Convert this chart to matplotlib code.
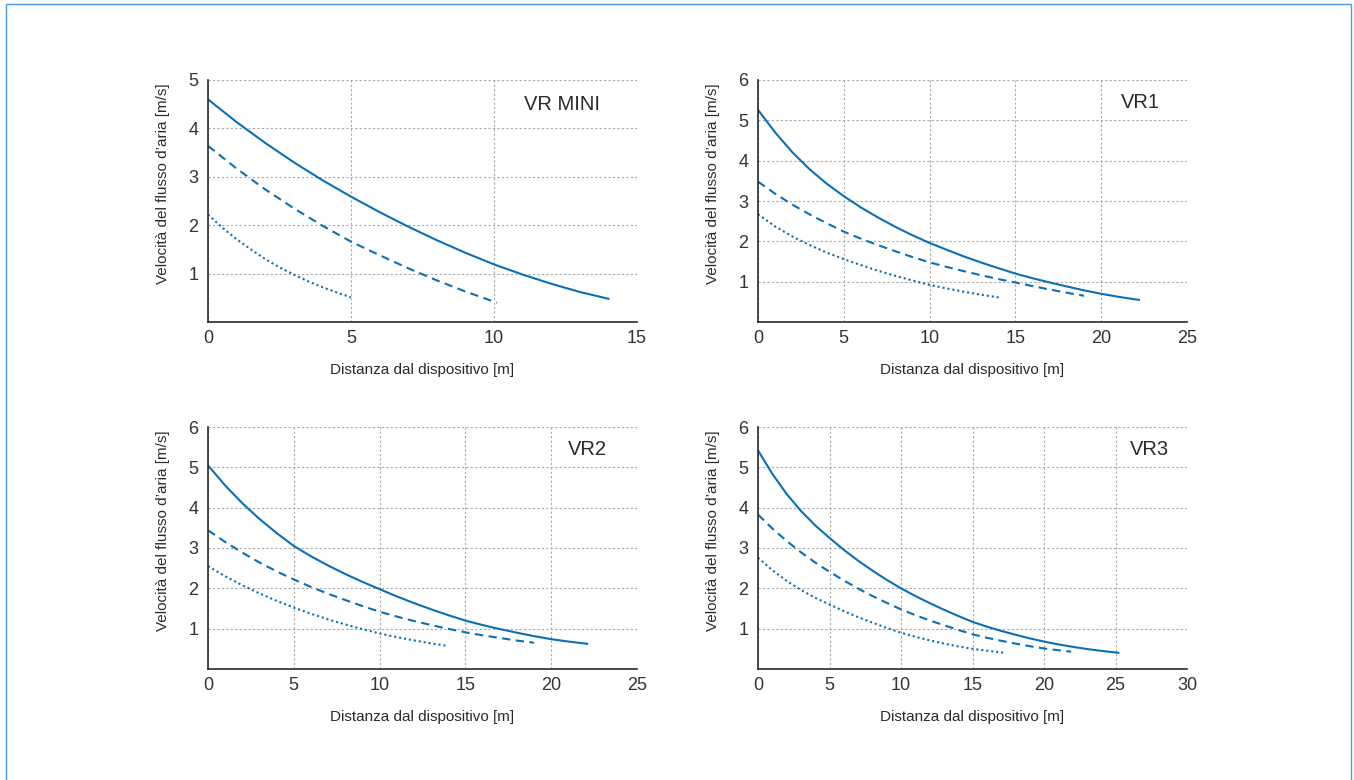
import matplotlib
matplotlib.use('Agg')
from matplotlib import pyplot as plt
from matplotlib.patches import Rectangle

plt.rcParams['font.family'] = ['Liberation Sans', 'DejaVu Sans']

BLUE = '#0b6fb6'
TXT = '#2a2a2a'

# VR MINI
mini_solid_x = [0, 1, 2, 3, 4, 5, 6, 7, 8, 9, 10, 11, 12, 13, 14]
mini_solid_y = [4.6, 4.13, 3.70, 3.30, 2.93, 2.59, 2.27, 1.97, 1.69, 1.43, 1.19, 0.98, 0.79, 0.62, 0.48]
mini_dash_x = [0, 1, 2, 3, 4, 5, 6, 7, 8, 9, 10, 10.1]
mini_dash_y = [3.64, 3.17, 2.74, 2.35, 1.99, 1.66, 1.38, 1.11, 0.86, 0.63, 0.42, 0.40]
mini_dot_x = [0, 0.5, 1, 1.5, 2, 2.5, 3, 3.5, 4, 4.5, 5]
mini_dot_y = [2.22, 1.95, 1.71, 1.50, 1.30, 1.13, 0.98, 0.84, 0.72, 0.61, 0.51]

# VR1
vr1_solid_x = [0, 1, 2, 3, 4, 5, 6, 7, 8, 9, 10, 11, 12, 13, 14, 15, 16, 17, 18, 19, 20, 21, 22, 22.2]
vr1_solid_y = [5.26, 4.70, 4.21, 3.79, 3.43, 3.12, 2.84, 2.59, 2.36, 2.15, 1.96, 1.79, 1.625,
               1.475, 1.335, 1.20, 1.085, 0.98, 0.88, 0.785, 0.70, 0.625, 0.56, 0.55]
vr1_dash_x = [0, 1, 2, 3, 4, 5, 6, 7, 8, 9, 10, 11, 12, 13, 14, 15, 16, 17, 18, 19]
vr1_dash_y = [3.48, 3.18, 2.91, 2.67, 2.45, 2.24, 2.065, 1.905, 1.755, 1.61, 1.48, 1.365, 1.26,
              1.16, 1.065, 0.98, 0.89, 0.805, 0.725, 0.65]
vr1_dot_x = [0, 1, 2, 3, 4, 5, 6, 7, 8, 9, 10, 11, 12, 13, 14, 14.2]
vr1_dot_y = [2.67, 2.37, 2.12, 1.91, 1.72, 1.56, 1.41, 1.27, 1.145, 1.03, 0.92, 0.83, 0.75,
             0.675, 0.61, 0.60]

# VR2
vr2_solid_x = [0, 1, 2, 3, 4, 5, 6, 7, 8, 9, 10, 11, 12, 13, 14, 15, 16, 17, 18, 19, 20, 21, 22, 22.1]
vr2_solid_y = [5.05, 4.55, 4.11, 3.72, 3.37, 3.05, 2.795, 2.565, 2.355, 2.16, 1.98, 1.80, 1.635,
               1.48, 1.335, 1.20, 1.09, 0.99, 0.90, 0.815, 0.74, 0.68, 0.63, 0.625]
vr2_dash_x = [0, 1, 2, 3, 4, 5, 6, 7, 8, 9, 10, 11, 12, 13, 14, 15, 16, 17, 18, 19]
vr2_dash_y = [3.44, 3.15, 2.885, 2.64, 2.42, 2.22, 2.035, 1.865, 1.71, 1.56, 1.42, 1.30, 1.19,
              1.09, 0.995, 0.91, 0.835, 0.77, 0.705, 0.65]
vr2_dot_x = [0, 1, 2, 3, 4, 5, 6, 7, 8, 9, 10, 11, 12, 13, 14]
vr2_dot_y = [2.55, 2.30, 2.075, 1.875, 1.69, 1.52, 1.37, 1.23, 1.105, 0.99, 0.88, 0.79, 0.71,
             0.635, 0.57]

# VR3
vr3_solid_x = [0, 1, 2, 3, 4, 5, 6, 7, 8, 9, 10, 11, 12, 13, 14, 15, 16, 17, 18, 19, 20,
               21, 22, 23, 24, 25, 25.2]
vr3_solid_y = [5.42, 4.84, 4.34, 3.92, 3.56, 3.25, 2.955, 2.685, 2.44, 2.21, 2.0, 1.81, 1.635,
               1.47, 1.315, 1.17, 1.05, 0.945, 0.85, 0.76, 0.68, 0.61, 0.55, 0.495, 0.45, 0.41, 0.40]
vr3_dash_x = [0, 1, 2, 3, 4, 5, 6, 7, 8, 9, 10, 11, 12, 13, 14, 15, 16, 17, 18, 19, 20, 21, 21.9]
vr3_dash_y = [3.83, 3.485, 3.175, 2.895, 2.64, 2.41, 2.195, 1.995, 1.81, 1.64, 1.48, 1.335, 1.205,
              1.085, 0.97, 0.86, 0.775, 0.70, 0.63, 0.565, 0.51, 0.465, 0.43]
vr3_dot_x = [0, 1, 2, 3, 4, 5, 6, 7, 8, 9, 10, 11, 12, 13, 14, 15, 16, 17, 17.3]
vr3_dot_y = [2.76, 2.45, 2.185, 1.96, 1.765, 1.60, 1.435, 1.285, 1.15, 1.02, 0.90, 0.80, 0.71,
             0.63, 0.56, 0.50, 0.455, 0.41, 0.40]

W, H = 1354, 780


def make_ax(fig, left, top, right, bottom):
    return fig.add_axes([left / W, 1 - bottom / H, (right - left) / W, (bottom - top) / H])


def style_ax(ax, xmax, ymax, name, tx, ty):
    ax.set_xlim(0, xmax)
    ax.set_ylim(0, ymax)
    ax.set_xticks(range(0, xmax + 1, 5))
    ax.set_yticks(range(1, ymax + 1))
    ax.grid(True, linestyle=(0, (2, 2)), color='#a8a8a8', linewidth=0.8)
    ax.set_axisbelow(True)
    for s in ['top', 'right']:
        ax.spines[s].set_visible(False)
    for s in ['left', 'bottom']:
        ax.spines[s].set_color(TXT)
        ax.spines[s].set_linewidth(1.2)
    ax.tick_params(length=0, labelsize=13, colors='#333333')
    ax.tick_params(axis='x', pad=6)
    ax.tick_params(axis='y', pad=7)
    ax.set_xlabel('Distanza dal dispositivo [m]', fontsize=11, color=TXT, labelpad=11)
    ax.set_ylabel("Velocità del flusso d’aria [m/s]", fontsize=11, color=TXT)
    ax.yaxis.set_label_coords(-0.088, 0.573)
    ax.text(tx, ty, name, transform=ax.transAxes, fontsize=14.5, color=TXT,
            ha='center', va='center')


def curves(ax, sx, sy, dx, dy, ox, oy):
    ax.plot(sx, sy, color=BLUE, linewidth=1.5, solid_joinstyle='round')
    ax.plot(dx, dy, color=BLUE, linewidth=1.5, linestyle=(0, (4, 2.6)))
    ax.plot(ox, oy, color=BLUE, linewidth=1.5, linestyle=(0, (1, 1.4)))


fig = plt.figure(figsize=(W / 100, H / 100), dpi=100)

ax1 = make_ax(fig, 208, 80, 637, 322)
curves(ax1, mini_solid_x, mini_solid_y, mini_dash_x, mini_dash_y, mini_dot_x, mini_dot_y)
style_ax(ax1, 15, 5, 'VR MINI', 0.825, 0.90)

ax2 = make_ax(fig, 758, 80, 1187, 322)
curves(ax2, vr1_solid_x, vr1_solid_y, vr1_dash_x, vr1_dash_y, vr1_dot_x, vr1_dot_y)
style_ax(ax2, 25, 6, 'VR1', 0.892, 0.905)

ax3 = make_ax(fig, 208, 427, 637, 669)
curves(ax3, vr2_solid_x, vr2_solid_y, vr2_dash_x, vr2_dash_y, vr2_dot_x, vr2_dot_y)
style_ax(ax3, 25, 6, 'VR2', 0.885, 0.905)

ax4 = make_ax(fig, 758, 427, 1187, 669)
curves(ax4, vr3_solid_x, vr3_solid_y, vr3_dash_x, vr3_dash_y, vr3_dot_x, vr3_dot_y)
style_ax(ax4, 30, 6, 'VR3', 0.913, 0.905)

# light blue frame round the whole figure
fig.patches.append(Rectangle((6 / W, -0.02), (1351 - 6) / W, 1.02 - 4 / H,
                             transform=fig.transFigure, fill=False,
                             edgecolor='#4a9ad8', linewidth=1.0))

fig.savefig('out.png', dpi=100)
